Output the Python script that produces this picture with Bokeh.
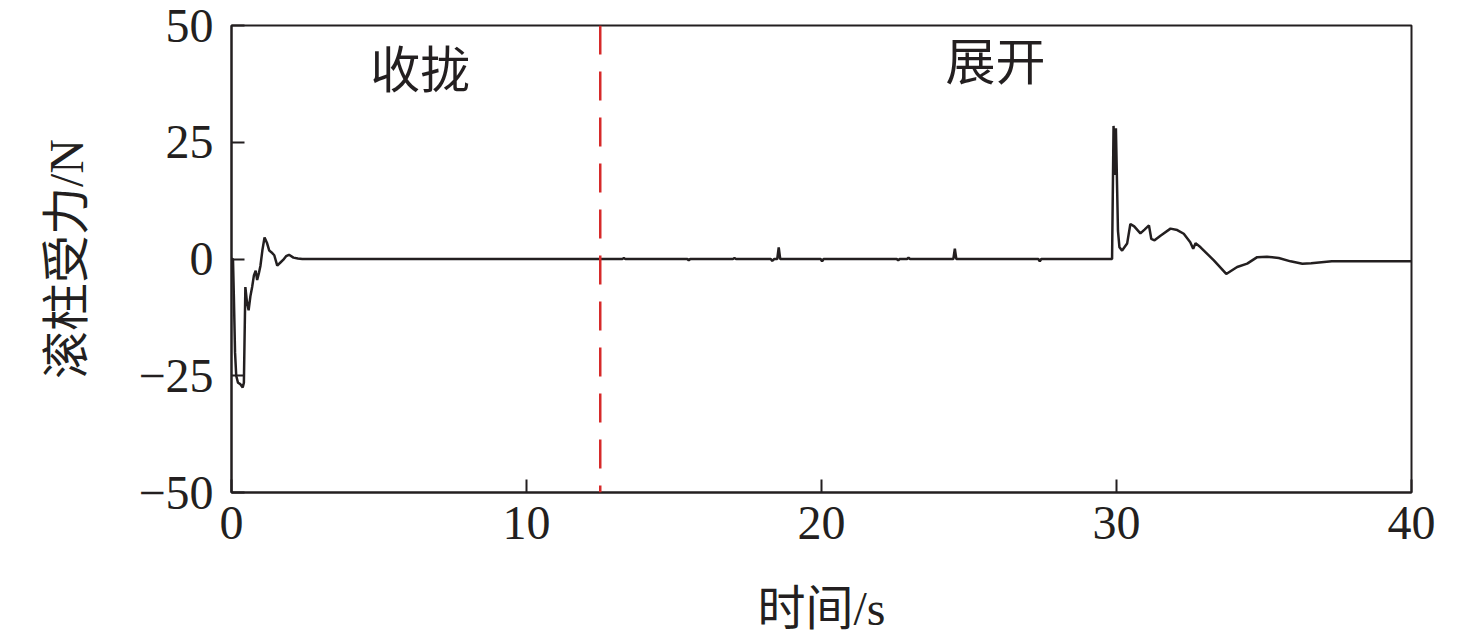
from bokeh.plotting import figure
from bokeh.models import Range1d, FixedTicker, Span, ColumnDataSource
from bokeh.core.properties import value
from bokeh.embed import file_html
from bokeh.resources import INLINE

# ---- data ----
time_s = [0.0, 0.05, 0.08, 0.12, 0.16, 0.22, 0.30, 0.38, 0.42, 0.47, 0.52, 0.58, 0.64,
          0.70, 0.76, 0.82, 0.87, 0.93, 0.98, 1.05, 1.12, 1.20, 1.28, 1.36, 1.45,
          1.55, 1.65, 1.75, 1.85, 1.95, 2.10, 2.25, 2.40, 2.60,
          13.25, 13.3, 13.35, 15.45, 15.5, 15.55, 17.0, 17.05, 17.1,
          18.28, 18.33, 18.4, 18.5, 18.55, 18.6, 19.97, 20.02, 20.07,
          22.55, 22.6, 22.65, 22.9, 22.95, 23.0, 24.47, 24.52, 24.57,
          27.35, 27.4, 27.45,
          29.85, 29.90, 29.94, 29.98, 30.05, 30.10, 30.19, 30.36, 30.47, 30.60,
          30.81, 30.95, 31.10, 31.18, 31.29, 31.49, 31.83, 32.06, 32.28, 32.50,
          32.60, 32.68, 32.85, 33.30, 33.72, 34.09, 34.43, 34.77, 35.10, 35.50,
          35.90, 36.30, 36.60, 37.30, 40.0]
force_n = [0.0, 0.0, -8.0, -20.0, -25.0, -26.5, -26.8, -27.5, -26.5, -6.0, -9.0, -11.0, -8.0,
           -6.0, -3.5, -2.5, -4.5, -3.0, -1.5, 2.0, 4.6, 3.5, 1.8, 1.4, 0.8,
           -1.4, -0.8, -0.2, 0.6, 0.9, 0.3, 0.1, 0.0, 0.0,
           0.0, 0.2, 0.0, 0.0, -0.3, 0.0, 0.0, 0.2, 0.0,
           0.0, -0.4, 0.0, 0.0, 2.5, 0.0, 0.0, -0.5, 0.0,
           0.0, -0.3, 0.0, 0.0, 0.3, 0.0, 0.0, 2.2, 0.0,
           0.0, -0.5, 0.0,
           0.0, 28.5, 18.0, 28.0, 6.0, 2.5, 1.8, 3.3, 7.5, 7.0,
           5.5, 6.3, 7.2, 4.3, 4.0, 5.0, 6.5, 6.2, 5.4, 3.6,
           2.2, 3.4, 2.5, -0.3, -3.2, -1.7, -1.0, 0.4, 0.5, 0.2,
           -0.5, -1.0, -0.9, -0.5, -0.5]

x_ticks = [0, 10, 20, 30, 40]
y_ticks = [-50, -25, 0, 25, 50]
y_tick_labels = {-50: "\u221250", -25: "\u221225", 0: "0", 25: "25", 50: "50"}
boundary_time = 12.5
phase_labels = ["收拢", "展开"]
phase_x = [6.4, 25.9]
phase_y = [41.3, 43.0]

serif_cjk = "Liberation Serif, Noto Sans CJK SC"

p = figure(frame_width=1180, frame_height=467, output_backend="svg",
           toolbar_location=None, x_range=Range1d(0, 40), y_range=Range1d(-50, 50),
           min_border_left=231, min_border_right=49, min_border_top=25,
           min_border_bottom=140)
p.background_fill_color = "white"
p.border_fill_color = "white"
p.outline_line_color = "#231f20"
p.outline_line_width = 2
p.grid.visible = False

src = ColumnDataSource(dict(t=time_s, f=force_n))
p.line("t", "f", source=src, line_color="#231f20", line_width=2.5)

p.add_layout(Span(location=boundary_time, dimension="height", line_color="#d62a2a",
                  line_width=2.5, line_dash="29 17"))

p.text(x=phase_x, y=phase_y, text=phase_labels, text_font=value("Noto Sans CJK SC"),
       text_font_size="50px", text_align="center", text_baseline="middle",
       text_color="#231f20")

for ax in (p.xaxis[0], p.yaxis[0]):
    ax.axis_line_width = 2
    ax.axis_line_color = "#231f20"
    ax.major_tick_line_width = 2
    ax.major_tick_line_color = "#231f20"
    ax.major_tick_in = 13
    ax.major_tick_out = 0
    ax.minor_tick_line_color = None
    ax.major_label_text_font = "Liberation Serif"
    ax.major_label_text_font_size = "48px"
    ax.major_label_text_color = "#231f20"
    ax.axis_label_text_font = serif_cjk
    ax.axis_label_text_font_style = "normal"
    ax.axis_label_text_font_size = "48px"
    ax.axis_label_text_color = "#231f20"

p.xaxis.ticker = FixedTicker(ticks=x_ticks)
p.yaxis.ticker = FixedTicker(ticks=y_ticks)
p.yaxis.major_label_overrides = y_tick_labels
p.xaxis.axis_label = "时间/s"
p.yaxis.axis_label = "滚柱受力/N"
p.xaxis.major_label_standoff = 14
p.yaxis.major_label_standoff = 18
p.xaxis.axis_label_standoff = 40
p.yaxis.axis_label_standoff = 42

open("out.html", "w").write(file_html(p, INLINE))
